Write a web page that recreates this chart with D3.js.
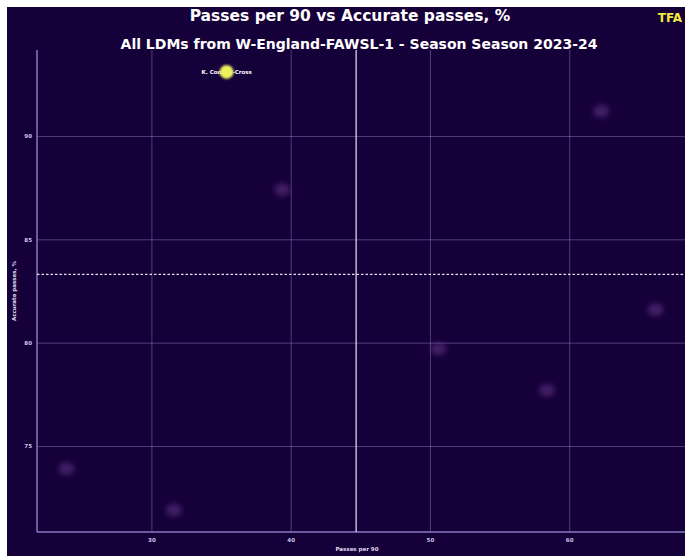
<!DOCTYPE html>
<html>
<head>
<meta charset="utf-8">
<script src="https://cdn.jsdelivr.net/npm/d3@7"></script>
<style>
  html, body { margin: 0; padding: 0; background: #ffffff; }
  svg { display: block; }
</style>
</head>
<body>
<svg id="chart" width="685" height="556"></svg>
<script>
// ---- data ----
const players = ["K. Cooney-Cross", "Player B", "Player C", "Player D", "Player E", "Player F", "Player G", "Player H"];
const passesPer90 = [35.4, 62.3, 39.4, 66.2, 50.6, 58.4, 23.9, 31.6];
const accuratePasses = [93.1, 91.2, 87.4, 81.6, 79.7, 77.7, 73.9, 71.9];
const highlighted = ["K. Cooney-Cross"];
const xTicks = [30, 40, 50, 60];
const yTicks = [75, 80, 85, 90];
const medianX = [44.7];
const medianY = [83.3];
const title = "Passes per 90 vs Accurate passes, %";
const subtitle = "All LDMs from W-England-FAWSL-1 - Season Season 2023-24";

const rows = players.map((p, i) => ({ name: p, x: passesPer90[i], y: accuratePasses[i] }));

const svg = d3.select("#chart");
const W = 685, H = 556;
const bg = "#16003a";

svg.append("rect").attr("x", 7).attr("y", 7).attr("width", W - 7).attr("height", H - 7).attr("fill", bg);

const defs = svg.append("defs");
defs.append("filter").attr("id", "blur").attr("x", "-100%").attr("y", "-100%").attr("width", "300%").attr("height", "300%")
  .append("feGaussianBlur").attr("stdDeviation", 2.5);
defs.append("filter").attr("id", "blur2").attr("x", "-100%").attr("y", "-100%").attr("width", "300%").attr("height", "300%")
  .append("feGaussianBlur").attr("stdDeviation", 0.8);

const plot = { left: 37, right: 685, top: 50, bottom: 532 };

function padded(vals) {
  const [a, b] = d3.extent(vals);
  const p = (b - a) * 0.05;
  return [a - p, b + p];
}
const x = d3.scaleLinear().domain(padded(passesPer90)).range([plot.left, plot.right]);
const y = d3.scaleLinear().domain(padded(accuratePasses)).range([plot.bottom, plot.top]);

const gridColor = "rgba(170,150,220,0.4)";

// grid
const gx = svg.append("g").attr("transform", `translate(0,${plot.bottom})`)
  .call(d3.axisBottom(x).tickValues(xTicks).tickSize(-(plot.bottom - plot.top)).tickPadding(6).tickFormat(d3.format("d")));
gx.select(".domain").remove();
gx.selectAll(".tick line").attr("stroke", gridColor).attr("stroke-width", 1);
gx.selectAll(".tick text").attr("fill", "#cfc6ea").attr("font-size", 5.5).attr("font-family", "DejaVu Sans").attr("font-weight", "bold");

const gy = svg.append("g").attr("transform", `translate(${plot.left},0)`)
  .call(d3.axisLeft(y).tickValues(yTicks).tickSize(-(plot.right - plot.left)).tickPadding(5).tickFormat(d3.format("d")));
gy.select(".domain").remove();
gy.selectAll(".tick line").attr("stroke", gridColor).attr("stroke-width", 1);
gy.selectAll(".tick text").attr("fill", "#cfc6ea").attr("font-size", 5.5).attr("font-family", "DejaVu Sans").attr("font-weight", "bold");

// spines
svg.append("line").attr("x1", plot.left).attr("x2", plot.left).attr("y1", plot.top).attr("y2", plot.bottom)
  .attr("stroke", "#8a78c0").attr("stroke-width", 1.5);
svg.append("line").attr("x1", plot.left).attr("x2", plot.right).attr("y1", plot.bottom).attr("y2", plot.bottom)
  .attr("stroke", "#8a78c0").attr("stroke-width", 1.5);

// median lines
svg.append("line").attr("x1", x(medianX[0])).attr("x2", x(medianX[0])).attr("y1", plot.top).attr("y2", plot.bottom)
  .attr("stroke", "#e8e4f4").attr("stroke-width", 1.2);
svg.append("line").attr("x1", plot.left).attr("x2", plot.right).attr("y1", y(medianY[0])).attr("y2", y(medianY[0]))
  .attr("stroke", "#e8e4f4").attr("stroke-width", 1.2).attr("stroke-dasharray", "2.5,2");

// points
const others = rows.filter(d => !highlighted.includes(d.name));
svg.append("g").selectAll("ellipse").data(others).join("ellipse")
  .attr("cx", d => x(d.x)).attr("cy", d => y(d.y)).attr("rx", 8).attr("ry", 6.5)
  .attr("fill", "#6a3a8e").attr("opacity", 0.5).attr("filter", "url(#blur)");

const hl = rows.filter(d => highlighted.includes(d.name));
const hg = svg.append("g");
hg.selectAll("text").data(hl).join("text")
  .attr("x", d => x(d.x)).attr("y", d => y(d.y) + 2)
  .attr("text-anchor", "middle").attr("fill", "#ffffff")
  .attr("font-size", 5.5).attr("font-family", "DejaVu Sans").attr("font-weight", "bold")
  .text(d => d.name);
hg.selectAll("circle").data(hl).join("circle")
  .attr("cx", d => x(d.x)).attr("cy", d => y(d.y)).attr("r", 7)
  .attr("fill", "#eef05c").attr("filter", "url(#blur2)");

// axis labels
svg.append("text").attr("x", (plot.left + plot.right) / 2 - 4).attr("y", 551).attr("text-anchor", "middle")
  .attr("fill", "#e0dcf0").attr("font-size", 5.5).attr("font-family", "DejaVu Sans").attr("font-weight", "bold")
  .text("Passes per 90");
svg.append("text").attr("transform", `translate(16,${(plot.top + plot.bottom) / 2}) rotate(-90)`)
  .attr("text-anchor", "middle")
  .attr("fill", "#e0dcf0").attr("font-size", 5.5).attr("font-family", "DejaVu Sans").attr("font-weight", "bold")
  .text("Accurate passes, %");

// titles
svg.append("text").attr("x", 350).attr("y", 21).attr("text-anchor", "middle")
  .attr("fill", "#ffffff").attr("font-size", 15.5).attr("font-family", "DejaVu Sans").attr("font-weight", "bold")
  .text(title);
svg.append("text").attr("x", 359).attr("y", 49).attr("text-anchor", "middle")
  .attr("fill", "#ffffff").attr("font-size", 14).attr("font-family", "DejaVu Sans").attr("font-weight", "bold")
  .text(subtitle);
svg.append("text").attr("x", 670).attr("y", 22).attr("text-anchor", "middle")
  .attr("fill", "#f2ea3a").attr("font-size", 12).attr("font-family", "DejaVu Sans").attr("font-weight", "bold")
  .text("TFA");
</script>
</body>
</html>
